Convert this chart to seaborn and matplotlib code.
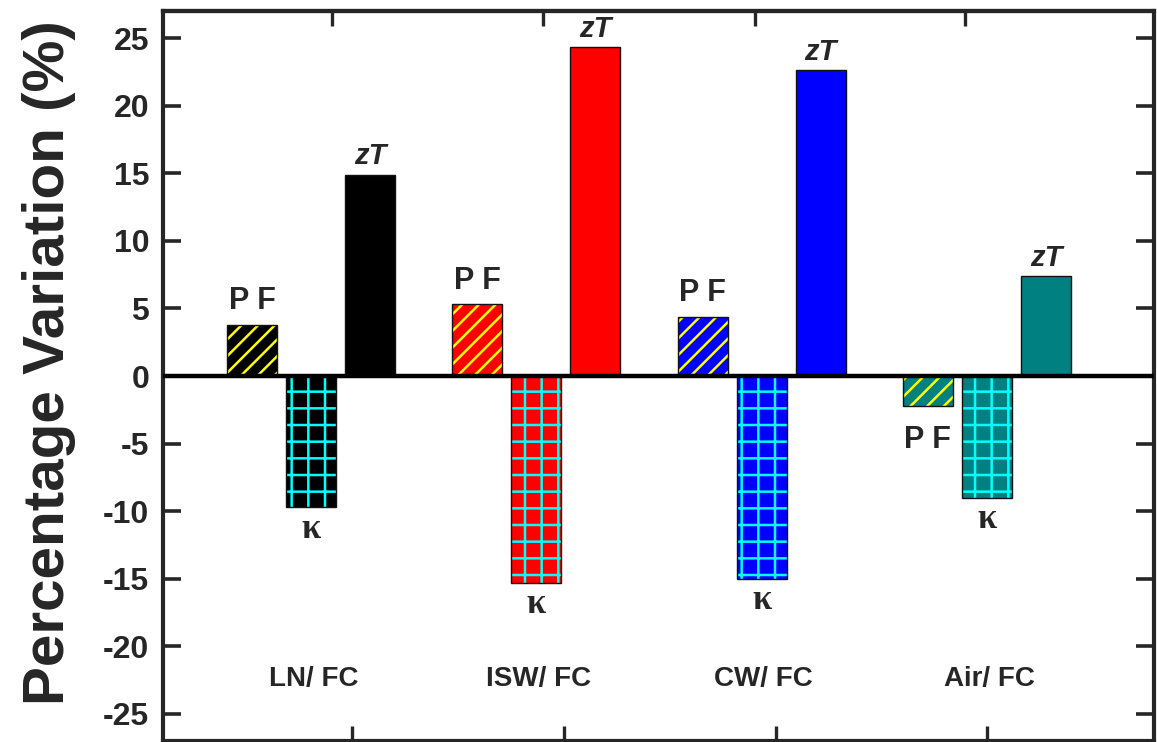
import numpy as np
import pandas as pd
import matplotlib
matplotlib.use("Agg")
import matplotlib.pyplot as plt
import matplotlib.colors as mcolors
import seaborn as sns

# data
groups = ['LN/FC', 'ISW/FC', 'CW/FC', 'Air/FC']
quantities = ['PF', 'κ', 'zT']
pf_values = [3.8, 5.3, 4.4, -2.2]
kappa_values = [-9.7, -15.3, -15.0, -9.0]
zt_values = [14.9, 24.3, 22.6, 7.4]
group_labels = ['LN/ FC', 'ISW/ FC', 'CW/ FC', 'Air/ FC']
group_colors = ['#000000', '#ff0000', '#0000ff', '#008080']
hatches = ['//', '+', None]
hatch_colors = ['#ffff00', '#00ffff', None]
yticks = [-25, -20, -15, -10, -5, 0, 5, 10, 15, 20, 25]
bottom_ticks = [0.182, 1.123, 2.064, 3.0]
top_ticks = [0.093, 1.030, 1.971, 2.903]

df = pd.DataFrame({
    'group': groups * 3,
    'quantity': [q for q in quantities for _ in groups],
    'value': pf_values + kappa_values + zt_values,
})

sns.set_style('ticks')
plt.rcParams['font.family'] = ['Liberation Sans', 'DejaVu Sans']
plt.rcParams['font.weight'] = 'bold'
plt.rcParams['axes.unicode_minus'] = False
plt.rcParams['hatch.linewidth'] = 1.8

fig = plt.figure(figsize=(11.57, 7.42), dpi=100)
ax = fig.add_axes([0.1409, 0.0013, 0.8565, 0.9839])

sns.barplot(data=df, x='group', y='value', hue='quantity', order=groups,
            hue_order=quantities, width=0.786, gap=0.153, errorbar=None,
            legend=False, ax=ax, saturation=1)

for i, cont in enumerate(ax.containers):
    for j, bar in enumerate(cont):
        bar.set_facecolor(group_colors[j])
        bar.set_edgecolor('#111111')
        bar.set_linewidth(1.0)
        if hatches[i]:
            bar.set_hatch(hatches[i])
            if hasattr(bar, 'set_hatchcolor'):
                bar.set_hatchcolor(hatch_colors[i])
            else:
                bar._hatch_color = mcolors.to_rgba(hatch_colors[i])
        h = bar.get_height()
        v = bar.get_y() + h if h >= 0 else min(bar.get_y(), bar.get_y() + h)
        xc = bar.get_x() + bar.get_width() / 2
        kw = dict(ha='center', fontweight='bold', textcoords='offset points')
        if quantities[i] == 'κ':
            kw.update(fontsize=25, family=['Liberation Serif', 'DejaVu Serif'])
        elif quantities[i] == 'zT':
            kw.update(fontsize=21, style='italic')
        else:
            kw.update(fontsize=22)
        lab = quantities[i] if quantities[i] != 'PF' else 'P F'
        if v >= 0:
            ax.annotate(lab, (xc, v), xytext=(0, 3 if i == 2 else 6), va='bottom', **kw)
        else:
            ax.annotate(lab, (xc, v), xytext=(0, -4 if i == 1 else -14), va='top', **kw)

ax.axhline(0, color='black', lw=3.2, zorder=5)

for j, lab in enumerate(group_labels):
    ax.text(j + 0.01, -22.4, lab, ha='center', va='center', fontsize=20,
            fontweight='bold')

ax.set_xlim(-0.657, 3.742)
ax.set_ylim(-27, 27)
ax.set_yticks(yticks)
ax.set_xticks(bottom_ticks, labels=[])
ax.set_xlabel('')
ax.set_ylabel('Percentage Variation (%)', fontsize=42, fontweight='bold')
ax.yaxis.set_label_coords(-0.088, 0.518)
ax.tick_params(axis='y', direction='in', length=13, width=2.6, labelsize=23,
               pad=10, right=True)
ax.tick_params(axis='x', direction='in', length=11, width=2.4, bottom=True)
for s in ax.spines.values():
    s.set_linewidth(3)
    s.set_visible(True)

top = ax.secondary_xaxis('top')
top.set_xticks(top_ticks, labels=[])
top.tick_params(direction='in', length=11, width=2.4)
top.spines['top'].set_linewidth(3)

fig.savefig('out.png', dpi=100)
